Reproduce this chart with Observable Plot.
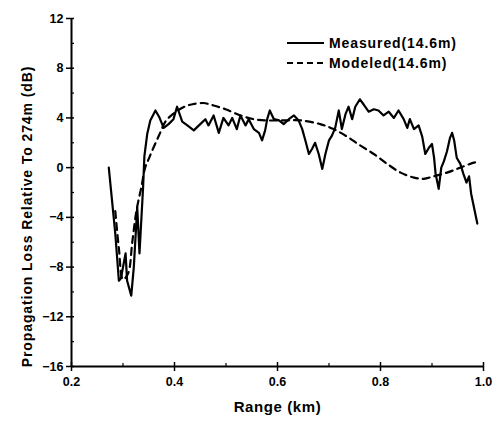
<!DOCTYPE html>
<html>
<head>
<meta charset="utf-8">
<script src="https://cdn.jsdelivr.net/npm/d3@7"></script>
<script src="https://cdn.jsdelivr.net/npm/@observablehq/plot@0.6"></script>
<style>
  html, body { margin: 0; padding: 0; background: #fff; }
  #wrap { position: relative; width: 495px; height: 422px; font-family: "Liberation Sans", Arial, sans-serif; }
  #legend { position: absolute; left: 0; top: 0; pointer-events: none; }
</style>
</head>
<body>
<div id="wrap"></div>
<script>
// Measured (14.6 m)
const measuredRange = [0.2724,0.285,0.292,0.296,0.305,0.308,0.316,0.321,0.3276,0.332,0.339,0.3415,0.347,0.353,0.363,0.370,0.379,0.3885,0.398,0.405,0.415,0.425,0.4375,0.45,0.46,0.466,0.476,0.486,0.495,0.505,0.512,0.521,0.528,0.538,0.544,0.554,0.564,0.570,0.576,0.580,0.585,0.593,0.603,0.612,0.622,0.632,0.641,0.648,0.654,0.661,0.667,0.673,0.680,0.687,0.693,0.700,0.706,0.712,0.719,0.725,0.732,0.738,0.745,0.751,0.760,0.767,0.777,0.787,0.796,0.806,0.816,0.826,0.835,0.845,0.852,0.857,0.865,0.874,0.881,0.887,0.894,0.900,0.904,0.907,0.913,0.918,0.923,0.929,0.935,0.939,0.943,0.948,0.955,0.961,0.967,0.972,0.976,0.988];
const measuredLoss  = [0.0,-5.3,-9.1,-8.9,-6.9,-9.1,-10.3,-8.0,-3.2,-6.9,-1.6,0.9,2.7,3.8,4.6,4.1,3.2,3.5,3.9,4.9,3.7,3.4,3.0,3.5,3.9,3.4,4.2,2.8,4.0,3.4,4.0,3.1,4.2,3.4,3.9,3.1,2.8,2.2,3.0,3.9,4.6,3.9,3.8,3.5,3.9,4.2,3.8,3.1,2.2,1.1,1.5,2.0,1.1,-0.1,1.1,2.2,2.6,3.2,4.6,3.1,4.3,4.9,3.9,4.9,5.5,5.1,4.5,4.7,4.6,4.2,4.5,4.0,4.6,3.9,3.2,3.9,3.1,3.4,2.5,1.1,1.6,1.9,0.8,-0.5,-1.7,0.0,0.5,1.3,2.4,2.8,2.2,0.8,0.3,-0.5,-1.2,-0.7,-2.1,-4.5];

// Modeled (14.6 m)
const modeledRange = [0.285,0.292,0.300,0.310,0.318,0.326,0.336,0.343,0.350,0.357,0.370,0.384,0.400,0.410,0.425,0.435,0.456,0.476,0.499,0.528,0.554,0.580,0.612,0.645,0.683,0.709,0.735,0.760,0.787,0.813,0.839,0.865,0.884,0.903,0.929,0.955,0.981,0.993];
const modeledLoss  = [-3.5,-6.5,-9.0,-8.5,-6.0,-3.5,-1.5,0.0,0.7,1.4,2.6,3.8,4.4,4.7,5.0,5.1,5.2,5.0,4.7,4.2,3.9,3.8,3.8,3.8,3.5,3.1,2.5,1.8,1.1,0.3,-0.4,-0.8,-0.9,-0.7,-0.4,0.0,0.4,0.5];

const xMajor = [0.2, 0.4, 0.6, 0.8, 1.0];
const xMinor = [0.3, 0.5, 0.7, 0.9];
const yMajor = [-16, -12, -8, -4, 0, 4, 8, 12];
const yMinor = [-14, -10, -6, -2, 2, 6, 10];

const xTitle = "Range (km)";
const yTitle = "Propagation Loss Relative To 274m (dB)";
const seriesNames = ["Measured(14.6m)", "Modeled(14.6m)"];

const measured = measuredRange.map((r, i) => ({r, v: measuredLoss[i]}));
const modeled = modeledRange.map((r, i) => ({r, v: modeledLoss[i]}));

const chart = Plot.plot({
  width: 495,
  height: 422,
  marginLeft: 71,
  marginRight: 12,
  marginTop: 18,
  marginBottom: 56,
  style: { fontFamily: '"Liberation Sans", Arial, sans-serif', fontWeight: "bold", fontSize: "12.5px", color: "#000", background: "#fff" },
  x: { domain: [0.2, 1.0] },
  y: { domain: [-16, 12] },
  marks: [
    Plot.axisX({ ticks: xMajor, tickSize: 5, tickPadding: 6, tickFormat: d3.format(".1f"), label: null, strokeWidth: 1.5 }),
    Plot.axisX({ ticks: xMajor, tickSize: -4, text: null, label: null, strokeWidth: 1.5 }),
    Plot.axisX({ ticks: xMinor, tickSize: -3, text: null, label: null, strokeWidth: 1.2 }),
    Plot.axisY({ ticks: yMajor, tickSize: 5, tickPadding: 3, tickFormat: d3.format("d"), label: null, strokeWidth: 1.5 }),
    Plot.axisY({ ticks: yMajor, tickSize: -3, text: null, label: null, strokeWidth: 1.5 }),
    Plot.axisY({ ticks: yMinor, tickSize: -3, text: null, label: null, strokeWidth: 1.2 }),
    Plot.text([xTitle], { frameAnchor: "bottom", dy: 45, fontSize: 15, fontWeight: "bold" }),
    Plot.text([yTitle], { frameAnchor: "left", textAnchor: "middle", dx: -44, dy: 24, rotate: -90, fontSize: 14, fontWeight: "bold" }),
    Plot.ruleX([0.2], { stroke: "#000", strokeWidth: 2 }),
    Plot.ruleY([-16], { stroke: "#000", strokeWidth: 2 }),
    Plot.line(modeled, { x: "r", y: "v", stroke: "#000", strokeWidth: 2.2, strokeDasharray: "7,5", curve: "catmull-rom" }),
    Plot.line(measured, { x: "r", y: "v", stroke: "#000", strokeWidth: 2.2, strokeLinejoin: "round" })
  ]
});

// letter spacing for titles (styling only)
d3.select(chart).selectAll("text").each(function() {
  const s = d3.select(this);
  if (s.text() === yTitle) s.style("letter-spacing", "0.9px");
  if (s.text() === xTitle) s.style("letter-spacing", "0.6px");
});

const wrap = document.getElementById("wrap");
wrap.appendChild(chart);

// Legend overlay
const ns = "http://www.w3.org/2000/svg";
const leg = document.createElementNS(ns, "svg");
leg.setAttribute("id", "legend");
leg.setAttribute("width", 495);
leg.setAttribute("height", 422);
const dashes = [null, "6,4"];
seriesNames.forEach((name, i) => {
  const y = 43 + i * 20;
  const line = document.createElementNS(ns, "line");
  line.setAttribute("x1", 287); line.setAttribute("x2", i === 0 ? 324 : 327);
  line.setAttribute("y1", y); line.setAttribute("y2", y);
  line.setAttribute("stroke", "#000"); line.setAttribute("stroke-width", 2);
  if (dashes[i]) line.setAttribute("stroke-dasharray", dashes[i]);
  leg.appendChild(line);
  const t = document.createElementNS(ns, "text");
  t.setAttribute("x", 329); t.setAttribute("y", y + 5);
  t.setAttribute("font-family", '"Liberation Sans", Arial, sans-serif');
  t.setAttribute("font-weight", "bold");
  t.setAttribute("font-size", 14);
  t.setAttribute("letter-spacing", "0.9px");
  t.textContent = name;
  leg.appendChild(t);
});
wrap.appendChild(leg);
</script>
</body>
</html>
